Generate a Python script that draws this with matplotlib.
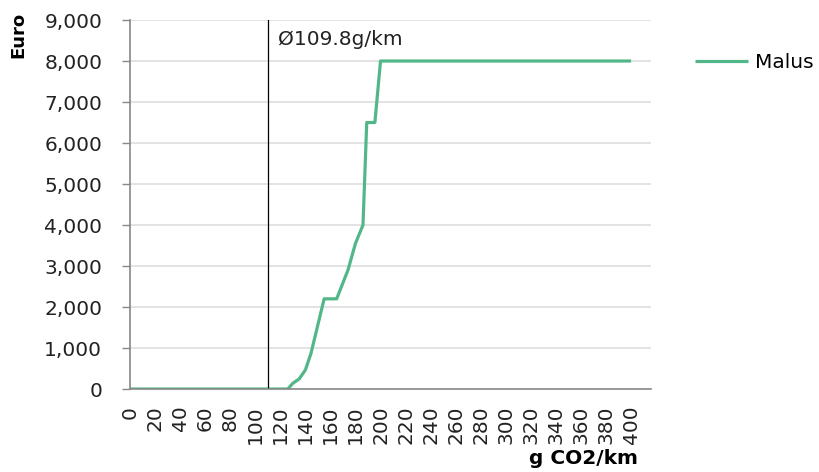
import matplotlib
matplotlib.use("Agg")
import matplotlib.pyplot as plt
from matplotlib.ticker import FuncFormatter, MultipleLocator
import numpy as np

plt.rcParams['font.family'] = ['DejaVu Sans']

# Malus (Euro) vs g CO2/km
co2 = [0, 126, 130, 135, 140, 144.5, 149, 155, 165, 174, 180, 186, 189, 195.5, 200, 400]
malus = [0, 0, 140, 244, 463, 870, 1440, 2200, 2200, 2900, 3550, 4000, 6500, 6500, 8000, 8000]
avg_co2 = 109.8
avg_label = "Ø109.8g/km"
series_name = "Malus"

fig = plt.figure(figsize=(8.19, 4.72), dpi=100)
ax = fig.add_axes([0.1587, 0.1758, 0.795 - 0.1587, 0.9576 - 0.1758])

ax.plot(co2, malus, color='#52b788', lw=2.3, label=series_name, solid_capstyle='butt')
ax.axvline(avg_co2, color='black', lw=0.9)
ax.text(avg_co2 + 8, 8530, avg_label, fontsize=14.5, va='center', ha='left', color='#222222')

ax.set_xlim(0, 416)
ax.set_ylim(0, 9000)

# labels every 20, ticks and grid every 40
ax.set_xticks(np.arange(0, 401, 20))
ax.set_xticks(np.arange(0, 401, 40), minor=True)
ax.tick_params(axis='x', which='major', length=0, labelsize=14.5, labelrotation=90, pad=12,
               labelcolor='#222222')
ax.tick_params(axis='x', which='minor', length=5, color='#888888', width=1)
ax.yaxis.set_major_locator(MultipleLocator(1000))
ax.yaxis.set_major_formatter(FuncFormatter(lambda v, p: f"{int(v):,}"))
ax.tick_params(axis='y', length=6, color='#888888', width=1, labelsize=14.5, pad=14,
               labelcolor='#222222')

ax.grid(True, which='minor', axis='x', color='#dedede', lw=1.2)
ax.grid(True, which='major', axis='y', color='#dedede', lw=1.2)
ax.set_axisbelow(True)

for s in ['top', 'right']:
    ax.spines[s].set_visible(False)
for s in ['left', 'bottom']:
    ax.spines[s].set_color('#888888')
    ax.spines[s].set_linewidth(1.2)

fig.text(0.022, 0.975, "Euro", rotation=90, fontsize=13, fontweight='bold', va='top', ha='center')
fig.text(0.779, 0.008, "g CO2/km", fontsize=14.5, fontweight='bold', va='bottom', ha='right')

fig.legend(handles=ax.get_lines()[:1], loc='center left', bbox_to_anchor=(0.849, 0.868),
           frameon=False, fontsize=14.5, handlelength=2.6, handletextpad=0.35,
           borderaxespad=0, borderpad=0)

fig.savefig("out.png", dpi=100)
